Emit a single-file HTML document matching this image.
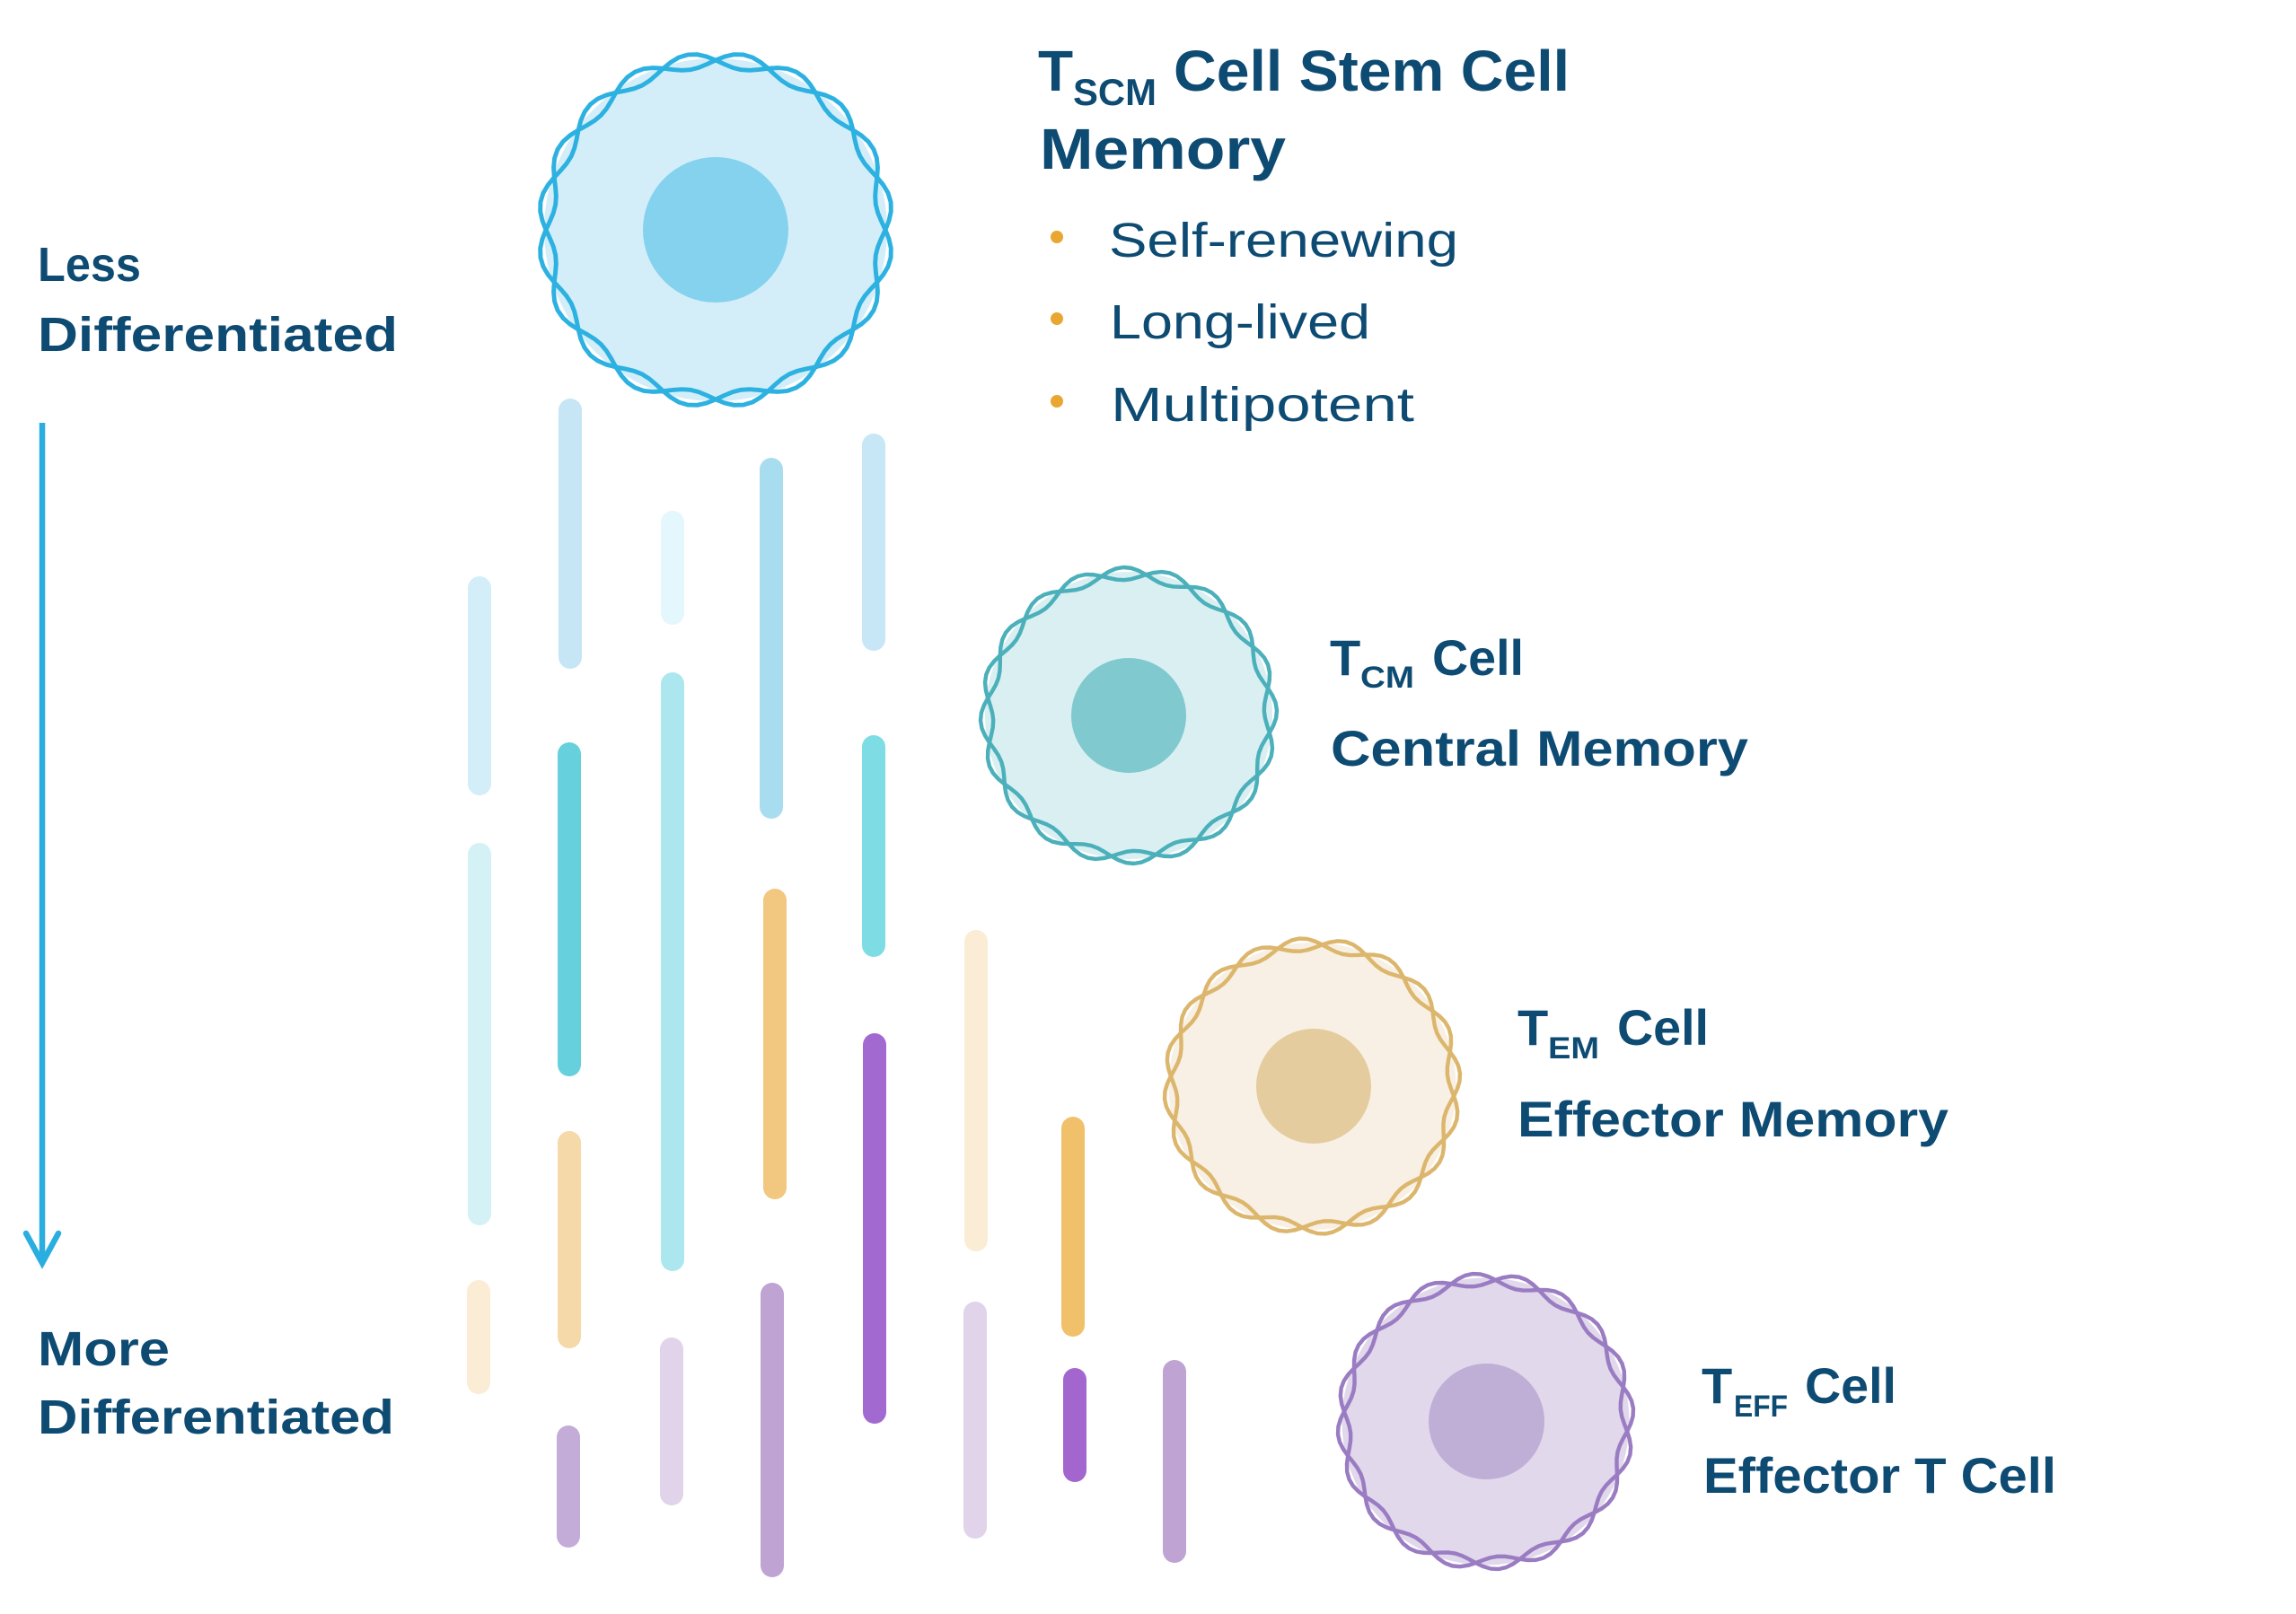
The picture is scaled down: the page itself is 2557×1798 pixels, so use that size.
<!DOCTYPE html>
<html>
<head>
<meta charset="utf-8">
<style>
  html,body{margin:0;padding:0;background:#ffffff;}
  svg{display:block;}
  text{font-family:"Liberation Sans", Arial, sans-serif; fill:#0e4b73; font-weight:bold;}
  .reg{font-weight:normal;}
</style>
</head>
<body>
<svg xmlns="http://www.w3.org/2000/svg" xmlns:xlink="http://www.w3.org/1999/xlink" width="2557" height="1798" viewBox="0 0 2557 1798">
  <rect x="0" y="0" width="2557" height="1798" fill="#ffffff"/>
  <defs>
    <path id="w" d="M1000,0 L1021.1,53.5 L1033.3,108.6 L1032.1,163.5 L1016.3,216 L987.7,264.6 L951.1,309 L912.6,350.3 L878,390.9 L850.9,433.6 L832.3,480.5 L819.8,532.4 L809,587.8" fill="none"/>
    <g id="ring">
      <use xlink:href="#w" href="#w"/>
      <use xlink:href="#w" href="#w" transform="rotate(18)"/>
      <use xlink:href="#w" href="#w" transform="rotate(36)"/>
      <use xlink:href="#w" href="#w" transform="rotate(54)"/>
      <use xlink:href="#w" href="#w" transform="rotate(72)"/>
      <use xlink:href="#w" href="#w" transform="rotate(90)"/>
      <use xlink:href="#w" href="#w" transform="rotate(108)"/>
      <use xlink:href="#w" href="#w" transform="rotate(126)"/>
      <use xlink:href="#w" href="#w" transform="rotate(144)"/>
      <use xlink:href="#w" href="#w" transform="rotate(162)"/>
      <use xlink:href="#w" href="#w" transform="rotate(180)"/>
      <use xlink:href="#w" href="#w" transform="rotate(198)"/>
      <use xlink:href="#w" href="#w" transform="rotate(216)"/>
      <use xlink:href="#w" href="#w" transform="rotate(234)"/>
      <use xlink:href="#w" href="#w" transform="rotate(252)"/>
      <use xlink:href="#w" href="#w" transform="rotate(270)"/>
      <use xlink:href="#w" href="#w" transform="rotate(288)"/>
      <use xlink:href="#w" href="#w" transform="rotate(306)"/>
      <use xlink:href="#w" href="#w" transform="rotate(324)"/>
      <use xlink:href="#w" href="#w" transform="rotate(342)"/>
    </g>
  </defs>

  <!-- Left axis arrow -->
  <line x1="47" y1="471" x2="47" y2="1404" stroke="#2aaee0" stroke-width="6.5"/>
  <polyline points="29,1374 47,1407 65,1374" fill="none" stroke="#2aaee0" stroke-width="6.5" stroke-linecap="round" stroke-linejoin="miter"/>

  <!-- Left labels -->
  <text x="42" y="313" font-size="54" textLength="115" lengthAdjust="spacingAndGlyphs">Less</text>
  <text x="42" y="391" font-size="54" textLength="401" lengthAdjust="spacingAndGlyphs">Differentiated</text>
  <text x="42" y="1521" font-size="54" textLength="147" lengthAdjust="spacingAndGlyphs">More</text>
  <text x="42" y="1597" font-size="54" textLength="397" lengthAdjust="spacingAndGlyphs">Differentiated</text>

  <!-- Bars -->
  <g stroke-width="26" stroke-linecap="round" fill="none">
    <line x1="534" y1="655" x2="534" y2="873" stroke="#d3eef8"/>
    <line x1="534" y1="952" x2="534" y2="1352" stroke="#d4f1f5"/>
    <line x1="533" y1="1439" x2="533" y2="1540" stroke="#fbecd6"/>

    <line x1="635" y1="457" x2="635" y2="732" stroke="#c6e6f5"/>
    <line x1="634" y1="840" x2="634" y2="1186" stroke="#66d0dc"/>
    <line x1="634" y1="1273" x2="634" y2="1489" stroke="#f6d9a8"/>
    <line x1="633" y1="1601" x2="633" y2="1711" stroke="#c4acd8"/>

    <line x1="749" y1="582" x2="749" y2="683" stroke="#e4f7fd"/>
    <line x1="749" y1="762" x2="749" y2="1403" stroke="#ace6ee"/>
    <line x1="748" y1="1503" x2="748" y2="1664" stroke="#e0d3ea"/>

    <line x1="859" y1="523" x2="859" y2="899" stroke="#a8ddf0"/>
    <line x1="863" y1="1003" x2="863" y2="1323" stroke="#f2c880"/>
    <line x1="860" y1="1442" x2="860" y2="1744" stroke="#bea3d3"/>

    <line x1="973" y1="496" x2="973" y2="712" stroke="#c7e7f7"/>
    <line x1="973" y1="832" x2="973" y2="1053" stroke="#7ddce4"/>
    <line x1="974" y1="1164" x2="974" y2="1573" stroke="#a26ad0"/>

    <line x1="1087" y1="1049" x2="1087" y2="1381" stroke="#fbecd6"/>
    <line x1="1086" y1="1463" x2="1086" y2="1701" stroke="#e0d3ea"/>

    <line x1="1195" y1="1257" x2="1195" y2="1476" stroke="#f1c06a"/>
    <line x1="1197" y1="1537" x2="1197" y2="1638" stroke="#a366cf"/>

    <line x1="1308" y1="1528" x2="1308" y2="1728" stroke="#bea3d3"/>
  </g>

  <!-- TSCM cell -->
  <circle cx="797" cy="256" r="191" fill="#d4eef9"/>
  <circle cx="797" cy="256" r="81" fill="#84d2ee"/>
  <g transform="translate(797,256) scale(0.189)" stroke="#2cb1e1" stroke-width="26" fill="none" stroke-linecap="round" stroke-linejoin="round">
    <use xlink:href="#ring" href="#ring"/>
  </g>

  <!-- TCM cell -->
  <circle cx="1257" cy="797" r="160" fill="#d9eff2"/>
  <circle cx="1257" cy="797" r="64" fill="#80c9cf"/>
  <g transform="translate(1257,797) scale(0.158)" stroke="#4bb0ba" stroke-width="28" fill="none" stroke-linecap="round" stroke-linejoin="round">
    <use xlink:href="#ring" href="#ring" transform="rotate(7)"/>
  </g>

  <!-- TEM cell -->
  <circle cx="1461.5" cy="1210" r="160" fill="#f8f0e4"/>
  <circle cx="1463" cy="1210" r="64" fill="#e4cc9f"/>
  <g transform="translate(1461.5,1210) scale(0.158)" stroke="#dcb66c" stroke-width="28" fill="none" stroke-linecap="round" stroke-linejoin="round">
    <use xlink:href="#ring" href="#ring" transform="rotate(4)"/>
  </g>

  <!-- TEFF cell -->
  <circle cx="1654.5" cy="1583.5" r="160" fill="#e1d8ec"/>
  <circle cx="1655.5" cy="1583.5" r="64.5" fill="#bfaed6"/>
  <g transform="translate(1654.5,1583.5) scale(0.158)" stroke="#9a7cc2" stroke-width="28" fill="none" stroke-linecap="round" stroke-linejoin="round">
    <use xlink:href="#ring" href="#ring" transform="rotate(4)"/>
  </g>

  <!-- TSCM text -->
  <text x="1156" y="101" font-size="64">T</text>
  <text x="1195" y="117" font-size="42" textLength="93" lengthAdjust="spacingAndGlyphs">SCM</text>
  <text x="1307" y="101" font-size="64" textLength="441" lengthAdjust="spacingAndGlyphs">Cell Stem Cell</text>
  <text x="1158" y="188" font-size="64" textLength="274" lengthAdjust="spacingAndGlyphs">Memory</text>

  <circle cx="1177" cy="264" r="7" fill="#e9a631"/>
  <circle cx="1177" cy="355" r="7" fill="#e9a631"/>
  <circle cx="1177" cy="447" r="7" fill="#e9a631"/>
  <text class="reg" x="1235" y="286" font-size="54" textLength="389" lengthAdjust="spacingAndGlyphs">Self-renewing</text>
  <text class="reg" x="1236" y="377" font-size="54" textLength="290" lengthAdjust="spacingAndGlyphs">Long-lived</text>
  <text class="reg" x="1237" y="469" font-size="54" textLength="338" lengthAdjust="spacingAndGlyphs">Multipotent</text>

  <!-- TCM text -->
  <text x="1481" y="752" font-size="56">T</text>
  <text x="1515" y="766" font-size="34" textLength="60" lengthAdjust="spacingAndGlyphs">CM</text>
  <text x="1595" y="752" font-size="56" textLength="102" lengthAdjust="spacingAndGlyphs">Cell</text>
  <text x="1482" y="853" font-size="56" textLength="465" lengthAdjust="spacingAndGlyphs">Central Memory</text>

  <!-- TEM text -->
  <text x="1690" y="1164" font-size="56">T</text>
  <text x="1724" y="1179" font-size="34" textLength="57" lengthAdjust="spacingAndGlyphs">EM</text>
  <text x="1801" y="1164" font-size="56" textLength="102" lengthAdjust="spacingAndGlyphs">Cell</text>
  <text x="1690" y="1266" font-size="56" textLength="480" lengthAdjust="spacingAndGlyphs">Effector Memory</text>

  <!-- TEFF text -->
  <text x="1895" y="1563" font-size="56">T</text>
  <text x="1931" y="1578" font-size="34" textLength="60" lengthAdjust="spacingAndGlyphs">EFF</text>
  <text x="2010" y="1563" font-size="56" textLength="102" lengthAdjust="spacingAndGlyphs">Cell</text>
  <text x="1897" y="1663" font-size="56" textLength="393" lengthAdjust="spacingAndGlyphs">Effector T Cell</text>
</svg>
</body>
</html>
